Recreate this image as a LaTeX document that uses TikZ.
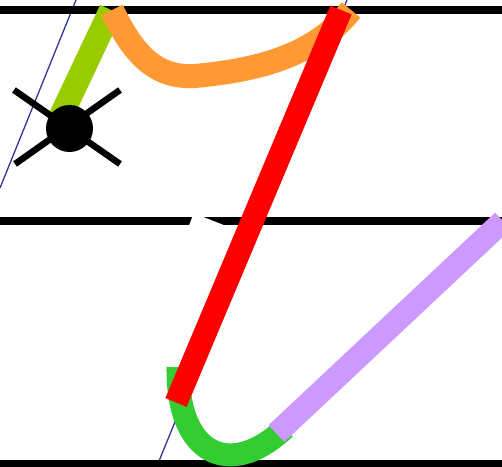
\documentclass[tikz,border=0pt]{standalone}
\definecolor{guideblue}{RGB}{51,51,153}
\definecolor{limegreen}{RGB}{153,204,0}
\definecolor{strokeorange}{RGB}{255,153,51}
\definecolor{strokered}{RGB}{255,0,0}
\definecolor{strokegreen}{RGB}{51,204,51}
\definecolor{strokepurple}{RGB}{204,153,255}
\tikzset{
  guide/.style={draw=guideblue, line width=1.3pt},
  ruling/.style={draw=black, line width=8pt},
  penstroke/.style={line width=#1, line cap=butt},
  armline/.style={draw=black, line width=6.5pt}
}
\begin{document}
\begin{tikzpicture}[x=1pt,y=-1pt]
\useasboundingbox (0,0) rectangle (502,466);
\begin{scope}
\clip (0,0) rectangle (502,466);
% slant guide lines
\coordinate (g1a) at (76,0);
\coordinate (g1b) at (0,188);
\coordinate (g2a) at (347,0);
\coordinate (g2b) at (157,466);
\draw[guide] (g1a) -- (g1b);
\draw[guide] (g2a) -- (g2b);
% rulings
\coordinate (r1a) at (0,10);   \coordinate (r1b) at (502,10);
\coordinate (r2a) at (0,221);  \coordinate (r2b) at (502,221);
\coordinate (r3a) at (0,463.5);\coordinate (r3b) at (502,463.5);
\draw[ruling] (r1a) -- (r1b);
\draw[ruling] (r2a) -- (r2b);
\draw[ruling] (r3a) -- (r3b);
% white wedge on middle ruling
\fill[white] (189,225.5) -- (192.5,216.5) -- (202,216.5) -- (225,225.5) -- cycle;
% lime stroke
\coordinate (lg1) at (111,10);
\coordinate (lg2) at (60,118);
\draw[limegreen, penstroke=24pt] (lg1) -- (lg2);
% orange stroke
\coordinate (o1) at (112,10);
\coordinate (o2) at (195,76);
\coordinate (o3) at (351,10);
\draw[strokeorange, penstroke=24pt] (o1) .. controls (135,58) and (158,78) .. (o2)
  .. controls (260,70) and (315,55) .. (o3);
% start marker
\coordinate (m) at (69.5,128.5);
\draw[armline] (14,90) -- (120,164);
\draw[armline] (120,90) -- (15,164);
\fill[black] (m) circle (23.5);
% green arc
\coordinate (ga) at (178,367);
\coordinate (gb) at (285,428);
\draw[strokegreen, penstroke=23pt] (ga) .. controls (177,455) and (230,480) .. (gb);
% red stroke
\coordinate (ra) at (341,10);
\coordinate (rb) at (176,402.5);
\draw[strokered, penstroke=23pt] (ra) -- (rb);
% purple stroke
\coordinate (pa) at (276.5,433.5);
\coordinate (pb) at (503,221);
\draw[strokepurple, penstroke=23pt] (pa) -- (pb);
\end{scope}
\end{tikzpicture}
\end{document}
